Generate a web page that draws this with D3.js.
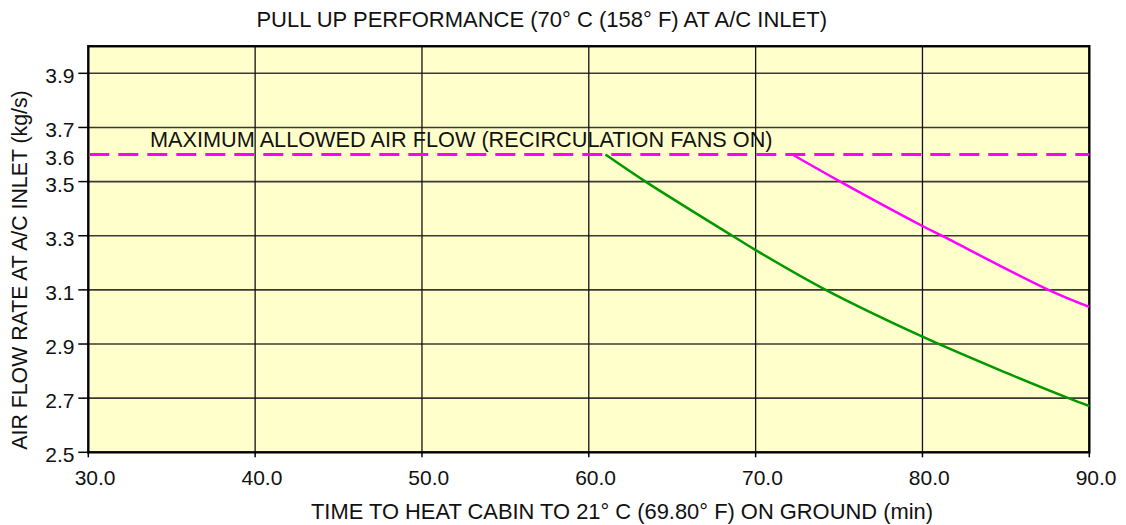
<!DOCTYPE html>
<html>
<head>
<meta charset="utf-8">
<script src="https://cdn.jsdelivr.net/npm/d3@7"></script>
<style>
  html, body { margin: 0; padding: 0; background: #ffffff; }
  svg { display: block; font-family: "Liberation Sans", Arial, Helvetica, sans-serif; }
</style>
</head>
<body>
<svg id="chart" width="1126" height="525"></svg>
<script>
// Pull-up performance: air flow rate vs. time to heat cabin
const xTicks = [30, 40, 50, 60, 70, 80, 90];
const xTickLabels = ["30.0", "40.0", "50.0", "60.0", "70.0", "80.0", "90.0"];
const yTicks = [2.5, 2.7, 2.9, 3.1, 3.3, 3.5, 3.6, 3.7, 3.9];
const yTickLabels = ["2.5", "2.7", "2.9", "3.1", "3.3", "3.5", "3.6", "3.7", "3.9"];
const yGrid = [2.7, 2.9, 3.1, 3.3, 3.5, 3.7, 3.9];
const xGrid = [40, 50, 60, 70, 80];

const maxFlow = 3.6;

// Lower curve (green)
const greenTime = [61.0, 63.4, 68.6, 70.0, 74.2, 80.0, 85.0, 88.75, 90.0];
const greenFlow = [3.6, 3.5, 3.3, 3.247, 3.1, 2.927, 2.794, 2.7, 2.671];

// Upper curve (magenta)
const magentaTime = [72.2, 75.07, 80.0, 81.16, 87.55, 90.0];
const magentaFlow = [3.6, 3.5, 3.336, 3.3, 3.1, 3.037];

const titleText = "PULL UP PERFORMANCE (70° C (158° F) AT A/C INLET)";
const xTitle = "TIME TO HEAT CABIN TO 21° C (69.80° F) ON GROUND (min)";
const yTitle = "AIR FLOW RATE AT A/C INLET (kg/s)";
const maxLabel = "MAXIMUM ALLOWED AIR FLOW (RECIRCULATION FANS ON)";

const svg = d3.select("#chart");
const plotLeft = 88.3, plotRight = 1089.3, plotBottom = 452.3;
const x = d3.scaleLinear().domain([30, 90]).range([plotLeft, plotRight]);
const yPerUnit = 270.7;
const y = d3.scaleLinear().domain([2.5, 4.0]).range([plotBottom, plotBottom - 1.5 * yPerUnit]);
const plotTop = y(4.0);

// plot background
svg.append("rect")
  .attr("x", plotLeft).attr("y", plotTop)
  .attr("width", plotRight - plotLeft).attr("height", plotBottom - plotTop)
  .attr("fill", "#ffffcc");

// grid
svg.append("g").selectAll("line").data(yGrid).join("line")
  .attr("x1", plotLeft).attr("x2", plotRight)
  .attr("y1", d => y(d)).attr("y2", d => y(d))
  .attr("stroke", "#3a3a30").attr("stroke-width", 1.6);
svg.append("g").selectAll("line").data(xGrid).join("line")
  .attr("x1", d => x(d)).attr("x2", d => x(d))
  .attr("y1", plotTop).attr("y2", plotBottom)
  .attr("stroke", "#111").attr("stroke-width", 1.3);

// frame
svg.append("rect")
  .attr("x", plotLeft).attr("y", plotTop)
  .attr("width", plotRight - plotLeft).attr("height", plotBottom - plotTop)
  .attr("fill", "none").attr("stroke", "#000").attr("stroke-width", 2.4);

// x axis ticks and labels
const xg = svg.append("g");
xg.selectAll("line").data(xTicks).join("line")
  .attr("x1", d => x(d)).attr("x2", d => x(d))
  .attr("y1", plotBottom).attr("y2", plotBottom + 5)
  .attr("stroke", "#000").attr("stroke-width", 1.5);
xg.selectAll("text").data(xTicks).join("text")
  .attr("x", d => x(d) + 6.8).attr("y", 485)
  .attr("text-anchor", "middle").attr("font-size", 21).attr("fill", "#111")
  .text((d, i) => xTickLabels[i]);

// y axis ticks and labels
const yg = svg.append("g");
yg.selectAll("line").data(yTicks.filter(v => v !== maxFlow)).join("line")
  .attr("x1", plotLeft - 10).attr("x2", plotLeft)
  .attr("y1", d => y(d)).attr("y2", d => y(d))
  .attr("stroke", "#000").attr("stroke-width", 1.5);
yg.selectAll("text").data(yTicks).join("text")
  .attr("x", 74.5).attr("y", d => y(d) + 10)
  .attr("text-anchor", "end").attr("font-size", 21).attr("fill", "#111")
  .text((d, i) => yTickLabels[i]);

// maximum allowed flow
svg.append("line")
  .attr("x1", plotLeft + 1).attr("x2", plotRight)
  .attr("y1", y(maxFlow)).attr("y2", y(maxFlow))
  .attr("stroke", "#ff00ff").attr("stroke-width", 3)
  .attr("stroke-dasharray", "20,9");
svg.append("text")
  .attr("x", 150).attr("y", 147.3)
  .attr("font-size", 21.7).attr("fill", "#111")
  .text(maxLabel);

// curves
const line = d3.line().x(d => x(d[0])).y(d => y(d[1])).curve(d3.curveCatmullRom.alpha(0.5));
svg.append("path")
  .datum(d3.zip(greenTime, greenFlow))
  .attr("d", line).attr("fill", "none")
  .attr("stroke", "#009900").attr("stroke-width", 2.5);
svg.append("path")
  .datum(d3.zip(magentaTime, magentaFlow))
  .attr("d", line).attr("fill", "none")
  .attr("stroke", "#ff00ff").attr("stroke-width", 2.5);

// titles
svg.append("text")
  .attr("x", 541.7).attr("y", 26.7)
  .attr("text-anchor", "middle").attr("font-size", 22).attr("fill", "#111")
  .text(titleText);
svg.append("text")
  .attr("x", 622).attr("y", 518.5)
  .attr("text-anchor", "middle").attr("font-size", 21.9).attr("fill", "#111")
  .text(xTitle);
svg.append("text")
  .attr("transform", "translate(27,270) rotate(-90)")
  .attr("text-anchor", "middle").attr("font-size", 21.3).attr("fill", "#111")
  .text(yTitle);
</script>
</body>
</html>
